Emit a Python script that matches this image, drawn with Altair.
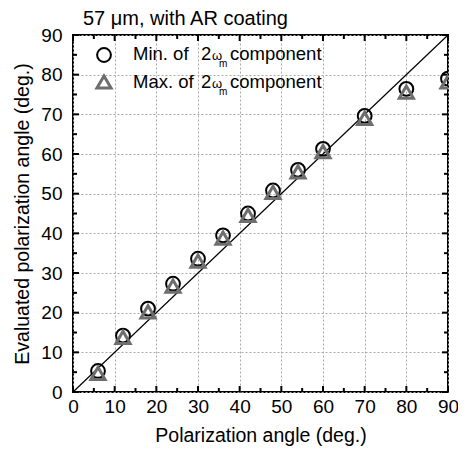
import altair as alt
import pandas as pd

# ---- data ----
angles = [6, 12, 18, 24, 30, 36, 42, 48, 54, 60, 70, 80, 90]
min_vals = [5.3, 14.2, 21.0, 27.3, 33.6, 39.5, 45.0, 50.8, 56.0, 61.3, 69.6, 76.4, 79.0]
max_vals = [4.7, 13.8, 20.2, 26.7, 33.0, 38.8, 44.5, 50.3, 55.5, 60.6, 69.0, 75.6, 78.2]
ideal_x = [0, 90]
ideal_y = [0, 90]
major_ticks = [0, 10, 20, 30, 40, 50, 60, 70, 80, 90]
minor_ticks = [5, 15, 25, 35, 45, 55, 65, 75, 85]
title_text = "57 \u03bcm, with AR coating"
legend_main = ["Min. of", "Max. of"]
legend_two = ["2", "2"]
legend_omega = ["\u03c9", "\u03c9"]
legend_sub = ["m", "m"]
legend_tail = ["component", "component"]
x_title = "Polarization angle (deg.)"
y_title = "Evaluated polarization angle (deg.)"

W, H = 375, 357
FONT = "Liberation Sans"
INK = "#000"

xs = alt.Scale(domain=[0, 90], nice=False, zero=False)
ys = alt.Scale(domain=[0, 90], nice=False, zero=False)

df_min = pd.DataFrame({"x": angles, "y": min_vals})
df_max = pd.DataFrame({"x": angles, "y": max_vals})
df_line = pd.DataFrame({"x": ideal_x, "y": ideal_y})
df_major = pd.DataFrame({"x": major_ticks, "y": major_ticks})
df_minor = pd.DataFrame({"x": minor_ticks, "y": minor_ticks})

common_axis = dict(values=major_ticks, grid=True, gridDash=[2, 2], gridColor="#ababab",
                   gridWidth=1, domain=False, ticks=False, tickSize=0, labelFlush=False,
                   labelFontSize=19, titleFontSize=19.5, titleFontWeight="normal",
                   labelColor=INK, titleColor=INK, labelFont=FONT, titleFont=FONT)
x_axis = alt.Axis(title=x_title, labelPadding=5, titlePadding=10, **common_axis)
y_axis = alt.Axis(title=y_title, labelPadding=11, titlePadding=8, **common_axis)

X = alt.X("x:Q", scale=xs, axis=x_axis)
Y = alt.Y("y:Q", scale=ys, axis=y_axis)

line = alt.Chart(df_line).mark_line(color="black", strokeWidth=1.2).encode(x=X, y=Y)

circles = alt.Chart(df_min).mark_point(shape="circle", filled=False, color="black",
                                       strokeWidth=2, size=190, clip=True, opacity=1).encode(x=X, y=Y)
triangles = alt.Chart(df_max).mark_point(shape="triangle-up", filled=False, color="#6e6e6e",
                                         strokeWidth=3, size=200, clip=True, opacity=1).encode(x=X, y=Y)

def tick_layers(df, length):
    rule = dict(color="black", strokeWidth=2)
    bottom = alt.Chart(df).mark_rule(**rule).encode(x=X, y=alt.value(H), y2=alt.value(H - length))
    top = alt.Chart(df).mark_rule(**rule).encode(x=X, y=alt.value(0), y2=alt.value(length))
    left = alt.Chart(df).mark_rule(**rule).encode(y=Y, x=alt.value(0), x2=alt.value(length))
    right = alt.Chart(df).mark_rule(**rule).encode(y=Y, x=alt.value(W), x2=alt.value(W - length))
    return [bottom, top, left, right]

ticks = tick_layers(df_major, 6) + tick_layers(df_minor, 4)

# title
df_title = pd.DataFrame({"t": [title_text]})
title = alt.Chart(df_title).mark_text(align="left", baseline="alphabetic", fontSize=20,
                                      font=FONT, color=INK).encode(
    x=alt.value(10), y=alt.value(-10), text="t:N")

# legend
legend_layers = []
rows = [(20, 25, 32, "circle", "black", 2, 190), (47, 53, 60, "triangle-up", "#6e6e6e", 3, 200)]
for i, (sy, by, sub_y, shape, col, sw, sz) in enumerate(rows):
    d = pd.DataFrame({"main": [legend_main[i]], "two": [legend_two[i]], "om": [legend_omega[i]],
                      "sub": [legend_sub[i]], "tail": [legend_tail[i]]})
    base = alt.Chart(d)
    txt = dict(align="left", baseline="alphabetic", font=FONT, color=INK)
    legend_layers.append(base.mark_point(shape=shape, filled=False, color=col, strokeWidth=sw,
                                         size=sz, opacity=1).encode(x=alt.value(31), y=alt.value(sy)))
    legend_layers.append(base.mark_text(fontSize=18.5, **txt).encode(
        x=alt.value(60), y=alt.value(by), text="main:N"))
    legend_layers.append(base.mark_text(fontSize=18.5, **txt).encode(
        x=alt.value(128), y=alt.value(by), text="two:N"))
    legend_layers.append(base.mark_text(fontSize=13, **txt).encode(
        x=alt.value(139), y=alt.value(by), text="om:N"))
    legend_layers.append(base.mark_text(fontSize=10, **txt).encode(
        x=alt.value(146), y=alt.value(sub_y), text="sub:N"))
    legend_layers.append(base.mark_text(fontSize=18.5, **txt).encode(
        x=alt.value(157), y=alt.value(by), text="tail:N"))

chart = alt.layer(line, *ticks, circles, triangles, title, *legend_layers).properties(
    width=W, height=H,
    autosize=alt.AutoSizeParams(type="none"),
    padding={"left": 65, "top": 27, "right": 10, "bottom": 54},
    background="white",
).configure_view(stroke="black", strokeWidth=2)

chart.save("out.html", embed_options={"renderer": "svg", "actions": False})
